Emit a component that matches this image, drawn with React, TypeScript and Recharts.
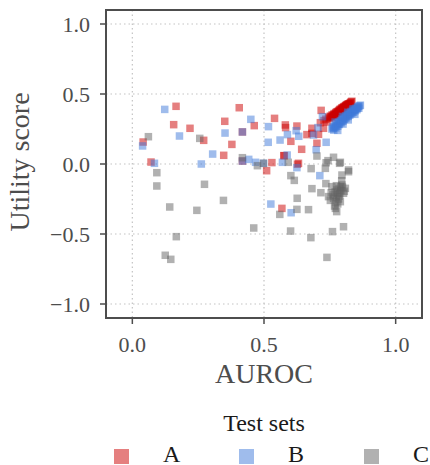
import React from "react";
import {
  CartesianGrid,
  Legend,
  ReferenceArea,
  Scatter,
  ScatterChart,
  XAxis,
  YAxis,
} from "recharts";

// [AUROC, utility] pairs
const setA: [number, number][] = [
  [0.166, 0.412], [0.157, 0.281], [0.219, 0.255], [0.406, 0.402], [0.351, 0.305],
  [0.463, 0.274], [0.54, 0.326], [0.271, 0.169], [0.378, 0.14], [0.347, 0.062],
  [0.041, 0.157], [0.071, 0.014], [0.418, 0.229], [0.418, 0.021], [0.53, 0.01],
  [0.51, -0.048], [0.582, 0.26], [0.625, 0.271], [0.602, 0.162], [0.643, 0.105],
  [0.575, 0.06], [0.627, -0.002], [0.568, -0.317], [0.717, 0.383], [0.682, 0.255],
  [0.663, 0.21], [0.701, 0.148], [0.707, 0.212], [0.581, 0.279], [0.682, 0.219],
  [0.714, 0.295], [0.577, 0.059], [0.631, 0.005], [0.726, 0.255],
  // dense cluster
  [0.745, 0.335], [0.752, 0.342], [0.758, 0.35], [0.762, 0.345], [0.766, 0.36],
  [0.77, 0.355], [0.773, 0.368], [0.777, 0.372], [0.78, 0.365], [0.783, 0.38],
  [0.786, 0.385], [0.789, 0.378], [0.792, 0.392], [0.795, 0.398], [0.798, 0.39],
  [0.801, 0.405], [0.804, 0.41], [0.806, 0.402], [0.809, 0.415], [0.812, 0.42],
  [0.815, 0.412], [0.818, 0.425], [0.821, 0.43], [0.824, 0.422], [0.827, 0.435],
  [0.829, 0.438], [0.76, 0.33], [0.775, 0.35], [0.79, 0.37], [0.805, 0.395],
  [0.735, 0.32], [0.74, 0.3], [0.728, 0.31],
  [0.748, 0.328], [0.755, 0.338], [0.764, 0.352], [0.768, 0.348], [0.772, 0.362],
  [0.779, 0.374], [0.784, 0.372], [0.788, 0.39], [0.794, 0.386], [0.797, 0.402],
  [0.8, 0.396], [0.803, 0.404], [0.808, 0.41], [0.811, 0.414], [0.814, 0.424],
  [0.817, 0.418], [0.82, 0.428], [0.825, 0.43], [0.831, 0.445], [0.834, 0.448],
];

const setB: [number, number][] = [
  [0.123, 0.39], [0.179, 0.2], [0.039, 0.129], [0.084, 0.005], [0.262, 0.0],
  [0.305, 0.071], [0.352, 0.221], [0.45, 0.319], [0.418, 0.229], [0.442, 0.033],
  [0.468, 0.012], [0.517, 0.267], [0.516, 0.155], [0.561, 0.171], [0.589, 0.21],
  [0.588, 0.064], [0.622, 0.238], [0.632, 0.198], [0.57, 0.012], [0.625, -0.026],
  [0.526, -0.286], [0.603, -0.348], [0.698, 0.102], [0.712, -0.083], [0.736, 0.155],
  [0.722, 0.338], [0.688, 0.207], [0.418, 0.021], [0.498, 0.005], [0.705, 0.26],
  // dense cluster
  [0.758, 0.25], [0.762, 0.265], [0.765, 0.242], [0.77, 0.275], [0.773, 0.258],
  [0.776, 0.29], [0.78, 0.27], [0.783, 0.3], [0.786, 0.282], [0.79, 0.31],
  [0.793, 0.295], [0.796, 0.322], [0.8, 0.305], [0.803, 0.335], [0.806, 0.318],
  [0.81, 0.345], [0.813, 0.33], [0.816, 0.355], [0.82, 0.34], [0.823, 0.365],
  [0.826, 0.35], [0.83, 0.375], [0.833, 0.36], [0.836, 0.385], [0.84, 0.37],
  [0.843, 0.392], [0.846, 0.38], [0.85, 0.4], [0.853, 0.388], [0.856, 0.408],
  [0.86, 0.398], [0.863, 0.415], [0.866, 0.42], [0.8, 0.285], [0.82, 0.315],
  [0.845, 0.355], [0.78, 0.24], [0.77, 0.3],
  [0.763, 0.255], [0.768, 0.262], [0.775, 0.272], [0.782, 0.285], [0.788, 0.295],
  [0.795, 0.308], [0.802, 0.318], [0.808, 0.33], [0.815, 0.342], [0.822, 0.352],
  [0.828, 0.362], [0.835, 0.372], [0.842, 0.382], [0.848, 0.39], [0.855, 0.398],
  [0.858, 0.412], [0.838, 0.395], [0.818, 0.37], [0.798, 0.34],
];

const setC: [number, number][] = [
  [0.061, 0.195], [0.093, -0.062], [0.093, -0.157], [0.142, -0.307], [0.167, -0.519],
  [0.125, -0.652], [0.146, -0.681], [0.256, 0.183], [0.274, -0.145], [0.245, -0.331],
  [0.346, -0.26], [0.461, -0.457], [0.418, 0.045], [0.475, -0.012], [0.498, 0.005],
  [0.602, -0.083], [0.615, -0.117], [0.626, -0.245], [0.625, -0.324], [0.56, -0.36],
  [0.601, -0.479], [0.669, -0.326], [0.678, -0.526], [0.679, -0.033], [0.682, -0.176],
  [0.701, 0.057], [0.716, -0.205], [0.739, -0.667], [0.76, -0.483], [0.802, -0.448],
  [0.764, 0.048], [0.736, 0.009], [0.787, 0.005], [0.733, -0.031], [0.821, -0.055],
  [0.796, -0.079], [0.758, -0.162], [0.796, -0.15], [0.809, -0.174], [0.777, -0.186],
  [0.802, -0.209], [0.745, -0.233], [0.764, -0.245], [0.79, -0.269], [0.771, -0.317],
  [0.785, -0.23], [0.77, -0.2], [0.752, -0.26], [0.795, -0.12], [0.592, 0.012],
  [0.743, 0.024], [0.79, 0.012], [0.821, -0.043],
  // dense cluster
  [0.79, -0.162], [0.785, -0.175], [0.792, -0.19], [0.78, -0.21], [0.788, -0.215],
  [0.775, -0.235], [0.783, -0.25], [0.772, -0.27], [0.78, -0.285], [0.768, -0.3],
  [0.798, -0.165], [0.762, -0.22], [0.755, -0.205], [0.805, -0.195], [0.775, -0.155],
  [0.735, -0.14], [0.776, -0.34],
];

const seriesNames = ["A", "B", "C"];
const seriesColors = ["#cc0000", "#3f7ada", "#646464"];
const seriesData = [setA, setB, setC];

const xTicks = [0, 0.5, 1];
const yTicks = [-1, -0.5, 0, 0.5, 1];

const FONT = "'Liberation Serif', 'Times New Roman', serif";
const AXIS_GREY = "#4d4d4d";
const ALPHA = 0.5;
const MARK = 7.5;

const fmt = (v: number) => v.toFixed(1).replace("-", "\u2212");

function squareShape(color: string) {
  return (props: any) => (
    <rect
      x={props.cx - MARK / 2}
      y={props.cy - MARK / 2}
      width={MARK}
      height={MARK}
      fill={color}
      fillOpacity={ALPHA}
    />
  );
}

function LegendBox() {
  return (
    <svg width={430} height={65} style={{ display: "block" }}>
      <text x={264} y={31} textAnchor="middle" fontSize={24} fontFamily={FONT} fill="#1a1a1a">
        Test sets
      </text>
      {seriesNames.map((name, i) => (
        <g key={name}>
          <rect x={114 + 125 * i} y={49} width={15} height={15} fill={seriesColors[i]} fillOpacity={ALPHA} />
          <text x={163 + 125 * i} y={62} fontSize={24} fontFamily={FONT} fill="#1a1a1a">
            {name}
          </text>
        </g>
      ))}
    </svg>
  );
}

export default function App() {
  const tickStyle = { fontSize: 22, fontFamily: FONT, fill: AXIS_GREY };
  return (
    <div style={{ position: "absolute", left: 0, top: 0, width: 430, height: 465 }}>
      <ScatterChart width={430} height={465} margin={{ top: 10, right: 8, bottom: 72, left: 0 }}>
        <CartesianGrid stroke="#c4c4c4" strokeDasharray="1.5 3" strokeWidth={1.2} />
        <XAxis
          type="number"
          dataKey="x"
          domain={[-0.1, 1.1]}
          ticks={xTicks}
          allowDataOverflow
          tickFormatter={fmt}
          tick={tickStyle}
          tickSize={6}
          tickMargin={12}
          height={75}
          stroke={AXIS_GREY}
          axisLine={{ stroke: AXIS_GREY, strokeWidth: 2 }}
          tickLine={{ stroke: AXIS_GREY, strokeWidth: 1.5 }}
          label={{
            content: () => (
              <text x={264} y={383} textAnchor="middle" fontSize={28} fontFamily={FONT} fill={AXIS_GREY}>
                AUROC
              </text>
            ),
          }}
        />
        <YAxis
          type="number"
          dataKey="y"
          domain={[-1.1, 1.1]}
          ticks={yTicks}
          allowDataOverflow
          tickFormatter={fmt}
          tick={tickStyle}
          tickSize={6}
          tickMargin={10}
          width={106}
          stroke={AXIS_GREY}
          axisLine={{ stroke: AXIS_GREY, strokeWidth: 2 }}
          tickLine={{ stroke: AXIS_GREY, strokeWidth: 1.5 }}
          label={{
            content: () => (
              <text
                x={29}
                y={162}
                transform="rotate(-90 29 162)"
                textAnchor="middle"
                fontSize={28}
                fontFamily={FONT}
                fill={AXIS_GREY}
              >
                Utility score
              </text>
            ),
          }}
        />
        {seriesData.map((pts, i) => (
          <Scatter
            key={seriesNames[i]}
            name={seriesNames[i]}
            data={pts.map(([x, y]) => ({ x, y }))}
            fill={seriesColors[i]}
            shape={squareShape(seriesColors[i])}
            isAnimationActive={false}
          />
        ))}
        <ReferenceArea
          x1={-0.1}
          x2={1.1}
          y1={-1.1}
          y2={1.1}
          fill="none"
          stroke={AXIS_GREY}
          strokeWidth={2}
          ifOverflow="visible"
        />
        <Legend
          layout="horizontal"
          verticalAlign="middle"
          align="center"
          wrapperStyle={{ top: 400, left: 0, width: 430, height: 65 }}
          content={() => <LegendBox />}
        />
      </ScatterChart>
    </div>
  );
}
